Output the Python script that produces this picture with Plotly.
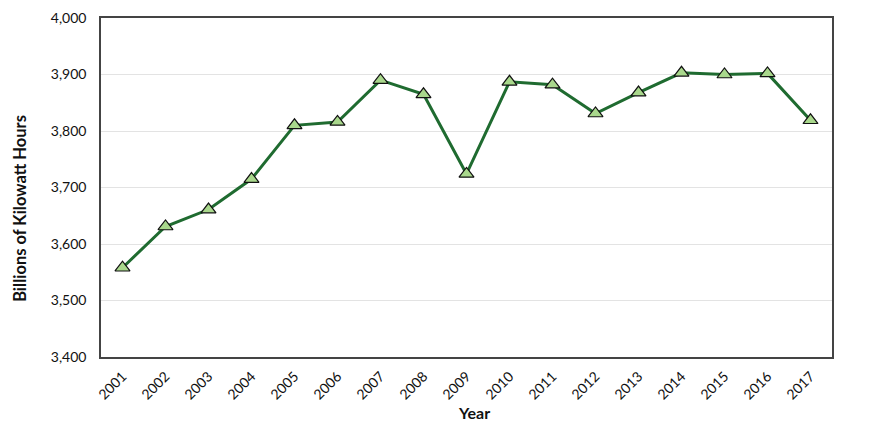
import plotly.graph_objects as go

years = [str(y) for y in range(2001, 2018)]
kwh = [3558, 3631, 3661, 3715, 3810, 3816, 3890, 3865, 3724,
       3887, 3882, 3831, 3868, 3903, 3900, 3902, 3819]

font_name = "Lato, DejaVu Sans, sans-serif"

fig = go.Figure()
fig.add_trace(go.Scatter(
    x=years, y=kwh,
    mode="lines+markers",
    line=dict(color="#1f6b30", width=3),
    marker=dict(symbol="triangle-up", size=13, color="#a9d88c",
                line=dict(color="#111111", width=1.2)),
    showlegend=False,
))

# axis titles as annotations so they sit where the original has them
fig.add_annotation(text="<b>Billions of Kilowatt Hours</b>", textangle=-90,
                   xref="paper", yref="paper", x=0, y=0.437, xshift=-81,
                   xanchor="center", yanchor="middle", showarrow=False,
                   font=dict(size=16.5))
fig.add_annotation(text="<b>Year</b>",
                   xref="paper", yref="paper", x=0.51, y=-0.165,
                   xanchor="center", yanchor="middle", showarrow=False,
                   font=dict(size=16))

# page body adds ~8px offset, margins compensate
fig.update_layout(
    width=870, height=436,
    margin=dict(l=93, r=46, t=10, b=87),
    paper_bgcolor="white",
    plot_bgcolor="white",
    font=dict(family=font_name, size=14, color="#111111"),
    xaxis=dict(
        tickangle=-45,
        ticklabelstandoff=4,
        showgrid=False,
        showline=True, linecolor="#444444", linewidth=1.5, mirror=True,
        ticks="", range=[-0.5, 16.5],
        automargin=False,
    ),
    yaxis=dict(
        range=[3400, 4000],
        dtick=100,
        tickformat=",",
        ticklabelstandoff=10,
        showgrid=True, gridcolor="#e3e3e3", gridwidth=1,
        showline=True, linecolor="#444444", linewidth=1.5, mirror=True,
        ticks="", zeroline=False,
        automargin=False,
    ),
)

fig.write_html("out.html")
